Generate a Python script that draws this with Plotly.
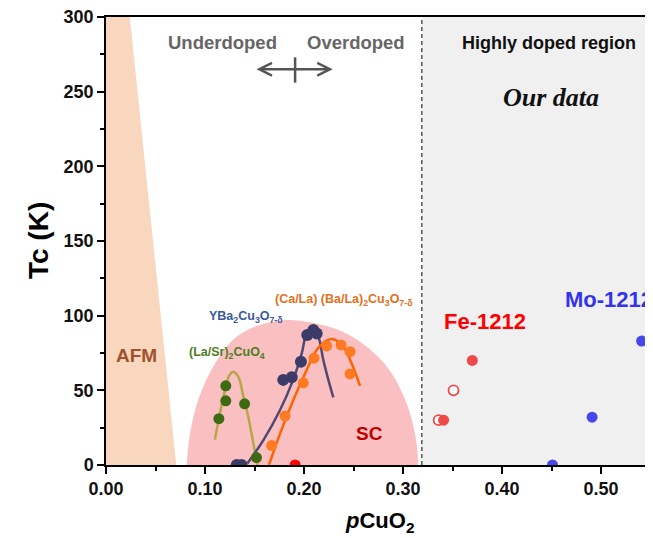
import plotly.graph_objects as go

# ---------------- data ----------------
afm_x = [0.0, 0.071, 0.024, 0.0]
afm_y = [0, 0, 300, 300]

dome_x = [0.0815, 0.0848, 0.0933, 0.1084, 0.1286, 0.152, 0.180, 0.2229, 0.2532, 0.2835, 0.302, 0.3121, 0.3155]
dome_y = [0, 21, 44, 66, 84, 93, 97, 93, 84, 66, 44, 21, 0]

lsco_x = [0.114, 0.121, 0.121, 0.140, 0.152]
lsco_y = [31, 53, 43, 41, 5]
lsco_fit_x = [0.110, 0.1152, 0.1202, 0.1246, 0.1286, 0.1337, 0.1387, 0.1438, 0.1488, 0.153]
lsco_fit_y = [17, 35, 50, 60, 62.5, 59, 46, 32, 14.5, 0]

ybco_x = [0.132, 0.137, 0.179, 0.1876, 0.1969, 0.2033, 0.2094, 0.2128]
ybco_y = [0, 0, 57, 58.7, 69.2, 87, 90.4, 88]
ybco_fit_x = [0.1428, 0.159, 0.1758, 0.189, 0.1977, 0.2026, 0.2087, 0.2145, 0.2195, 0.2246, 0.2296]
ybco_fit_y = [1, 16.7, 36.8, 57, 74.8, 88, 92.2, 86, 70.3, 57, 45.3]

cala_x = [0.1673, 0.1808, 0.1993, 0.2101, 0.2229, 0.2374, 0.2465, 0.2465]
cala_y = [13, 32.8, 55, 71.5, 79.7, 80.4, 75.9, 61]
cala_fit_x = [0.1646, 0.1758, 0.1892, 0.2027, 0.2128, 0.2229, 0.2296, 0.2397, 0.2481, 0.2566]
cala_fit_y = [0, 21, 43.5, 63.6, 77, 83.3, 84.2, 79.2, 68, 53]

red_x = [0.191]
red_y = [0]

fe_open_x = [0.336, 0.351]
fe_open_y = [30, 50]
fe_fill_x = [0.341, 0.370]
fe_fill_y = [30, 70]

mo_x = [0.451, 0.491, 0.541]
mo_y = [0, 32, 83]

highly_doped_start = 0.319
x_range = [0, 0.5525]
y_range = [0, 300]
x_ticks = [0.0, 0.1, 0.2, 0.3, 0.4, 0.5]
x_ticklabels = ["0.00", "0.10", "0.20", "0.30", "0.40", "0.50"]
y_ticks = [0, 50, 100, 150, 200, 250, 300]

# ---------------- figure ----------------
fig = go.Figure()

fig.add_trace(go.Scatter(x=afm_x, y=afm_y, fill="toself", mode="lines",
                         line=dict(width=0), fillcolor="#F9D6BE", hoverinfo="skip"))
fig.add_trace(go.Scatter(x=dome_x, y=dome_y, fill="toself", mode="lines",
                         line=dict(width=0, shape="spline"), fillcolor="#FAC0C1", hoverinfo="skip"))

fig.add_trace(go.Scatter(x=lsco_fit_x, y=lsco_fit_y, mode="lines",
                         line=dict(color="#B8A547", width=2.5, shape="spline")))
fig.add_trace(go.Scatter(x=ybco_fit_x, y=ybco_fit_y, mode="lines",
                         line=dict(color="#514873", width=2.5, shape="spline")))
fig.add_trace(go.Scatter(x=cala_fit_x, y=cala_fit_y, mode="lines",
                         line=dict(color="#FF6200", width=2.5, shape="spline")))

fig.add_trace(go.Scatter(x=lsco_x, y=lsco_y, mode="markers",
                         marker=dict(color="#3E6B12", size=11)))
fig.add_trace(go.Scatter(x=ybco_x, y=ybco_y, mode="markers",
                         marker=dict(color="#3C3B68", size=12)))
fig.add_trace(go.Scatter(x=cala_x, y=cala_y, mode="markers",
                         marker=dict(color="#FF7A20", size=11)))
fig.add_trace(go.Scatter(x=red_x, y=red_y, mode="markers",
                         marker=dict(color="#FF0000", size=11)))
fig.add_trace(go.Scatter(x=fe_open_x, y=fe_open_y, mode="markers",
                         marker=dict(color="white", size=10, line=dict(color="#EE4848", width=1.8))))
fig.add_trace(go.Scatter(x=fe_fill_x, y=fe_fill_y, mode="markers",
                         marker=dict(color="#EE4848", size=11)))
fig.add_trace(go.Scatter(x=mo_x, y=mo_y, mode="markers",
                         marker=dict(color="#4747EE", size=11)))

# shaded highly-doped region and dashed separator
fig.add_shape(type="rect", xref="x", yref="y", x0=highly_doped_start, x1=1.0, y0=y_range[0], y1=y_range[1],
              fillcolor="#F0F0F0", line=dict(width=0), layer="below")
fig.add_shape(type="line", xref="x", yref="y", x0=highly_doped_start, x1=highly_doped_start,
              y0=y_range[0], y1=y_range[1], line=dict(color="#555555", width=1.5, dash="4px,3px"))

# under/over-doped arrow
fig.add_annotation(x=0.229, y=265, ax=0.1505, ay=265, xref="x", yref="y", axref="x", ayref="y",
                   text="", showarrow=True, arrowhead=5, startarrowhead=5, arrowside="end+start",
                   arrowwidth=2.5, arrowsize=1, arrowcolor="#555555", standoff=0, startstandoff=0)
fig.add_shape(type="line", xref="x", yref="y", x0=0.191, x1=0.191, y0=256, y1=273,
              line=dict(color="#555555", width=2.5))

F = "Liberation Sans"

def label(x, y, text, size, color, family=F, xanchor="center"):
    fig.add_annotation(x=x, y=y, xref="x", yref="y", text=text, showarrow=False,
                       font=dict(family=family, size=size, color=color), xanchor=xanchor, yanchor="middle")

label(0.1172, 282.7, "<b>Underdoped</b>", 18.5, "#666666")
label(0.2525, 282.7, "<b>Overdoped</b>", 18.5, "#666666")
label(0.4475, 282.7, "<b>Highly doped region</b>", 18, "#111111")
label(0.4495, 245.8, "<b><i>Our data</i></b>", 26, "#111111", family="Liberation Serif")
label(0.0313, 73.3, "<b>AFM</b>", 19, "#A0522D")
label(0.2666, 21.4, "<b>SC</b>", 19, "#C00000")
label(0.1222, 75.2, "<b>(La/Sr)<sub>2</sub>CuO<sub>4</sub></b>", 12.5, "#4E7D23")
label(0.1414, 99.3, "<b>YBa<sub>2</sub>Cu<sub>3</sub>O<sub>7-δ</sub></b>", 12.5, "#3A5AA0")
label(0.2394, 110.5, "<b>(Ca/La) (Ba/La)<sub>2</sub>Cu<sub>3</sub>O<sub>7-δ</sub></b>", 12.5, "#E2701E")
label(0.3828, 96, "<b>Fe-1212</b>", 22, "#FF0000")
label(0.4616, 110.5, "<b>Mo-1212</b>", 22, "#3333EE", xanchor="left")

# axis titles
fig.add_annotation(x=-0.1243, y=0.5, xref="paper", yref="paper", text="<b>Tc (K)</b>", textangle=-90,
                   showarrow=False, font=dict(family=F, size=28, color="black"),
                   xanchor="center", yanchor="middle")
fig.add_annotation(x=0.5, y=-0.127, xref="paper", yref="paper", text="<b><i>p</i>CuO<sub>2</sub></b>",
                   showarrow=False, font=dict(family=F, size=22, color="black"),
                   xanchor="center", yanchor="middle")

fig.update_xaxes(range=x_range, tickvals=x_ticks, ticktext=x_ticklabels, ticks="outside", ticklen=7,
                 tickwidth=1.5, tickcolor="black", showline=True, linecolor="black", linewidth=1.5,
                 mirror=True, showgrid=False, zeroline=False, ticklabeloverflow="allow", automargin=False,
                 minor=dict(dtick=0.05, tick0=0, ticks="outside", ticklen=4, tickcolor="black", tickwidth=1.5),
                 tickfont=dict(family=F, size=18, color="#111111", weight="bold"))
fig.update_yaxes(range=y_range, tickvals=y_ticks, ticks="outside", ticklen=7, tickwidth=1.5,
                 tickcolor="black", showline=True, linecolor="black", linewidth=1.5, mirror=False,
                 showgrid=False, zeroline=False, ticklabeloverflow="allow", automargin=False,
                 minor=dict(dtick=25, tick0=0, ticks="outside", ticklen=4, tickcolor="black", tickwidth=1.5),
                 tickfont=dict(family=F, size=18, color="#111111", weight="bold"))

# page body has an 8px margin: compensate so the plot area lands where the reference has it
fig.update_layout(width=653, height=538, margin=dict(l=98, r=8, t=9, b=81),
                  plot_bgcolor="white", paper_bgcolor="white", showlegend=False)

fig.write_html("out.html")
